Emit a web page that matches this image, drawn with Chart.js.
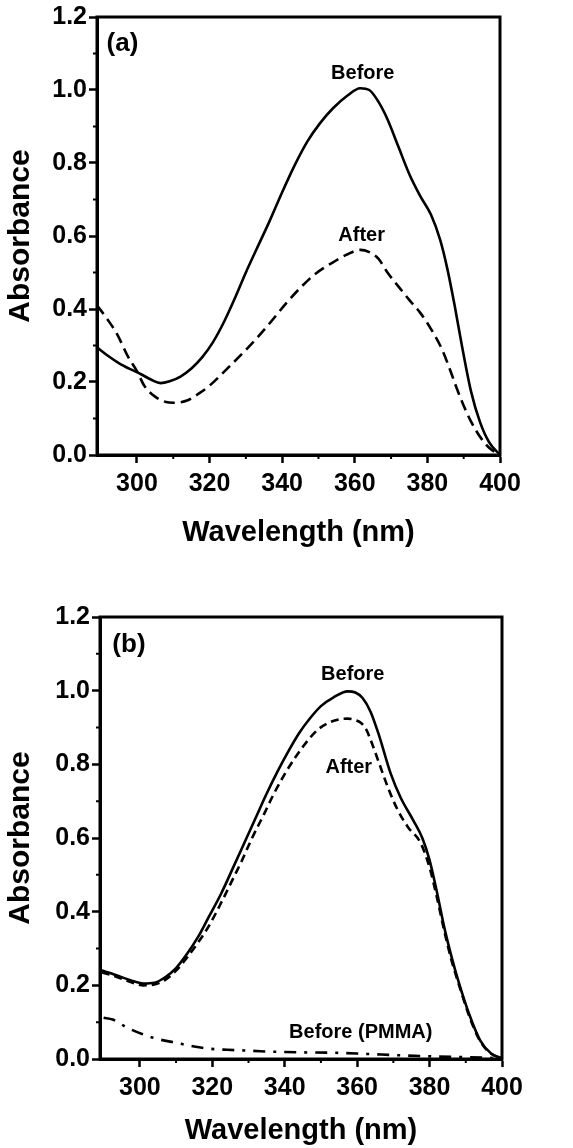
<!DOCTYPE html>
<html>
<head>
<meta charset="utf-8">
<script src="https://cdn.jsdelivr.net/npm/chart.js@4.4.1/dist/chart.umd.min.js"></script>
<style>
  html, body { margin: 0; padding: 0; background: #fff; }
  #wrap { position: relative; width: 573px; height: 1148px; }
  canvas { position: absolute; left: 0; }
  #chartA { top: 0; }
  #chartB { top: 574px; }
</style>
</head>
<body>
<div id="wrap">
  <canvas id="chartA" width="573" height="574"></canvas>
  <canvas id="chartB" width="573" height="574"></canvas>
</div>
<script>
// ---------------------------------------------------------------
// axes
// ---------------------------------------------------------------
const X_MIN = 289;
const X_MAX = 400;
const X_TICKS = [300, 320, 340, 360, 380, 400];
const X_MINOR_TICKS = [310, 330, 350, 370, 390];
const Y_TICKS = [0, 0.2, 0.4, 0.6, 0.8, 1.0, 1.2];
const Y_MINOR_TICKS = [0.1, 0.3, 0.5, 0.7, 0.9, 1.1];

// ---------------------------------------------------------------
// panel (a)
// ---------------------------------------------------------------
const aBeforeNm  = [289, 292, 295, 298, 301, 304, 306.5, 309, 312, 315, 318, 321, 324, 327, 330, 333, 336.5, 340, 343.5, 347, 350.5, 354, 358, 361.5, 364, 366.5, 369, 372, 375, 378, 381, 383.5, 385.5, 387.5, 389.5, 392, 394.5, 397, 400];
const aBeforeAbs = [0.295, 0.272, 0.252, 0.236, 0.222, 0.206, 0.197, 0.202, 0.215, 0.237, 0.268, 0.31, 0.365, 0.43, 0.5, 0.565, 0.64, 0.72, 0.795, 0.86, 0.91, 0.95, 0.985, 1.005, 1.0, 0.968, 0.92, 0.845, 0.77, 0.71, 0.658, 0.59, 0.51, 0.41, 0.3, 0.175, 0.09, 0.035, 0.0];

const aAfterNm  = [289, 292, 294.6, 297.5, 300, 302, 305, 308, 310, 314, 317, 320, 324.8, 329.8, 333, 336.4, 341.3, 345, 349, 354, 358, 361.5, 364, 366.5, 369, 372, 375, 378, 381, 384, 386, 388, 390, 392, 394.5, 397, 400];
const aAfterAbs = [0.41, 0.37, 0.33, 0.27, 0.23, 0.19, 0.16, 0.145, 0.143, 0.15, 0.168, 0.19, 0.236, 0.286, 0.32, 0.359, 0.418, 0.458, 0.495, 0.528, 0.55, 0.562, 0.556, 0.538, 0.5, 0.462, 0.425, 0.39, 0.345, 0.29, 0.24, 0.185, 0.135, 0.092, 0.05, 0.02, 0.0];

// ---------------------------------------------------------------
// panel (b)
// ---------------------------------------------------------------
const bBeforeNm  = [289.5, 292, 295, 298, 301, 304, 307, 310, 313, 316, 319, 322.5, 326, 329, 332, 335, 338, 341, 344, 347, 350, 353.5, 357.4, 359.5, 361.5, 363.7, 366, 369.2, 372, 375.5, 378, 380, 382, 384, 386, 388, 391, 394, 397, 400];
const bBeforeAbs = [0.24, 0.233, 0.222, 0.212, 0.205, 0.207, 0.222, 0.247, 0.285, 0.33, 0.385, 0.45, 0.525, 0.59, 0.655, 0.72, 0.78, 0.835, 0.885, 0.925, 0.958, 0.982, 0.998, 0.995, 0.98, 0.943, 0.88, 0.777, 0.71, 0.648, 0.6, 0.54, 0.455, 0.36, 0.28, 0.21, 0.12, 0.05, 0.015, 0.002];

const bAfterNm  = [289.5, 292, 295, 298, 301, 304, 307, 310, 313, 316, 319, 322.5, 326, 328, 331, 334.3, 337, 339.8, 343, 346.4, 349, 352, 355, 357.4, 359.5, 361, 362.5, 363.7, 366, 368.4, 371, 374, 377.5, 380, 382, 384, 386, 388, 391, 394, 397, 400];
const bAfterAbs = [0.235, 0.228, 0.218, 0.207, 0.2, 0.202, 0.215, 0.24, 0.275, 0.315, 0.36, 0.425, 0.495, 0.535, 0.6, 0.665, 0.72, 0.77, 0.82, 0.865, 0.893, 0.912, 0.922, 0.924, 0.92, 0.913, 0.895, 0.867, 0.805, 0.74, 0.68, 0.63, 0.587, 0.52, 0.44, 0.35, 0.27, 0.205, 0.115, 0.048, 0.014, 0.002];

const bPmmaNm  = [290, 292.5, 296.7, 300.8, 305, 310, 315, 319.2, 324.2, 329.2, 333.3, 337.5, 345, 353.6, 362, 372, 381, 390, 400];
const bPmmaAbs = [0.112, 0.107, 0.084, 0.067, 0.054, 0.044, 0.034, 0.028, 0.025, 0.023, 0.021, 0.0195, 0.018, 0.017, 0.014, 0.01, 0.007, 0.005, 0.002];

// text placed inside the plots (data coordinates)
const aNotes = [
    { text: '(a)',    nm: 296.0, abs: 1.126, size: 26 },
    { text: 'Before', nm: 362.2, abs: 1.046, size: 20 },
    { text: 'After',  nm: 361.9, abs: 0.601, size: 20 }
];
const bNotes = [
    { text: '(b)',           nm: 297.0, abs: 1.125, size: 26 },
    { text: 'Before',        nm: 358.8, abs: 1.043, size: 20 },
    { text: 'After',         nm: 357.7, abs: 0.791, size: 20 },
    { text: 'Before (PMMA)', nm: 361.0, abs: 0.071, size: 20 }
];

// ---------------------------------------------------------------
// helpers
// ---------------------------------------------------------------
const FONT = "'Liberation Sans', Arial, Helvetica, sans-serif";
Chart.defaults.font.family = FONT;
Chart.defaults.color = '#000';

function toPoints(xs, ys) {
    return xs.map((x, i) => ({ x: x, y: ys[i] }));
}

function series(xs, ys, dash) {
    return {
        data: toPoints(xs, ys),
        borderColor: '#000',
        borderWidth: 2.6,
        borderDash: dash || [],
        pointRadius: 0,
        fill: false,
        cubicInterpolationMode: 'monotone'
    };
}

// box around the plot + short minor ticks
const framePlugin = {
    id: 'frame',
    afterDraw(chart) {
        const { ctx, chartArea: a, scales: { x, y } } = chart;
        ctx.save();
        ctx.strokeStyle = '#000';
        ctx.lineWidth = 3;
        ctx.strokeRect(a.left, a.top, a.right - a.left, a.bottom - a.top);
        ctx.lineWidth = 2;
        ctx.beginPath();
        X_MINOR_TICKS.forEach(v => {
            const px = x.getPixelForValue(v);
            ctx.moveTo(px, a.bottom);
            ctx.lineTo(px, a.bottom + 4);
        });
        Y_MINOR_TICKS.forEach(v => {
            const py = y.getPixelForValue(v);
            ctx.moveTo(a.left, py);
            ctx.lineTo(a.left - 4, py);
        });
        ctx.stroke();
        ctx.restore();
    }
};

const notesPlugin = {
    id: 'notes',
    afterDatasetsDraw(chart, args, opts) {
        const { ctx, scales: { x, y } } = chart;
        ctx.save();
        ctx.fillStyle = '#000';
        ctx.textAlign = 'center';
        ctx.textBaseline = 'middle';
        (opts.items || []).forEach(n => {
            ctx.font = 'bold ' + n.size + 'px ' + FONT;
            ctx.fillText(n.text, x.getPixelForValue(n.nm), y.getPixelForValue(n.abs));
        });
        ctx.restore();
    }
};

function makePanel(id, datasets, notes, pad) {
    return new Chart(document.getElementById(id), {
        type: 'line',
        data: { datasets: datasets },
        options: {
            responsive: false,
            animation: false,
            layout: { padding: { left: 0, top: pad.top, right: pad.right, bottom: pad.bottom } },
            plugins: {
                legend: { display: false },
                tooltip: { enabled: false },
                notes: { items: notes }
            },
            scales: {
                x: {
                    type: 'linear',
                    min: X_MIN,
                    max: X_MAX,
                    afterBuildTicks: s => { s.ticks = X_TICKS.map(v => ({ value: v })); },
                    afterFit: s => { s.height = pad.xAxis; },
                    grid: { drawOnChartArea: false, tickLength: 8, tickWidth: 2.5, tickColor: '#000' },
                    border: { color: '#000', width: 3 },
                    ticks: {
                        color: '#000',
                        font: { size: 25, weight: 'bold' },
                        padding: 6,
                        maxRotation: 0,
                        autoSkip: false,
                        callback: v => v
                    },
                    title: {
                        display: true,
                        text: 'Wavelength (nm)',
                        color: '#000',
                        font: { size: 29, weight: 'bold' },
                        padding: { top: 0, bottom: pad.xTitle }
                    }
                },
                y: {
                    type: 'linear',
                    min: 0,
                    max: 1.2,
                    afterBuildTicks: s => { s.ticks = Y_TICKS.map(v => ({ value: v })); },
                    afterFit: s => { s.width = pad.yAxis; },
                    grid: { drawOnChartArea: false, tickLength: 8, tickWidth: 2.5, tickColor: '#000' },
                    border: { color: '#000', width: 3 },
                    ticks: {
                        color: '#000',
                        font: { size: 25, weight: 'bold' },
                        padding: 2,
                        callback: v => Number(v).toFixed(1)
                    },
                    title: {
                        display: true,
                        text: 'Absorbance',
                        color: '#000',
                        font: { size: 30, weight: 'bold' },
                        padding: { top: 3, bottom: 0 }
                    }
                }
            }
        },
        plugins: [framePlugin, notesPlugin]
    });
}

// ---------------------------------------------------------------
// draw
// ---------------------------------------------------------------
makePanel('chartA', [
    series(aBeforeNm, aBeforeAbs),
    series(aAfterNm, aAfterAbs, [11, 6])
], aNotes, { top: 16, right: 73, bottom: 19, xAxis: 100, yAxis: 97, xTitle: 5 });

makePanel('chartB', [
    series(bBeforeNm, bBeforeAbs),
    series(bAfterNm, bAfterAbs, [8, 5]),
    series(bPmmaNm, bPmmaAbs, [12, 8, 3, 8])
], bNotes, { top: 43, right: 71, bottom: 0, xAxis: 89, yAxis: 100, xTitle: 0 });
</script>
</body>
</html>
